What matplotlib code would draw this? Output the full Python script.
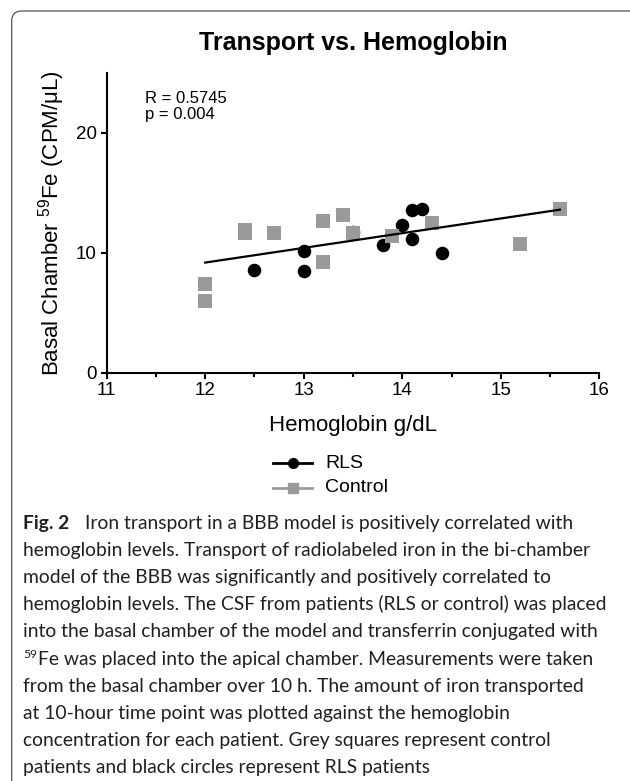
import matplotlib
matplotlib.use("Agg")
import matplotlib.pyplot as plt
import numpy as np
from matplotlib.lines import Line2D
from matplotlib.patches import FancyBboxPatch

plt.rcParams['font.family'] = ['Liberation Sans', 'DejaVu Sans']
plt.rcParams['mathtext.fontset'] = 'custom'
plt.rcParams['mathtext.rm'] = 'Liberation Sans'
plt.rcParams['mathtext.it'] = 'Liberation Sans:italic'

# data (hemoglobin g/dL, basal chamber 59Fe CPM/uL)
rls_hb = [12.5, 13.0, 13.0, 13.5, 13.8, 14.0, 14.1, 14.2, 14.1, 14.4]
rls_fe = [8.6, 10.1, 8.5, 11.7, 10.6, 12.3, 13.55, 13.65, 11.15, 9.95]
ctrl_hb = [12.0, 12.0, 12.4, 12.4, 12.7, 13.2, 13.4, 13.5, 13.2, 13.9, 14.3, 15.2, 15.6]
ctrl_fe = [7.4, 5.95, 11.9, 11.6, 11.6, 12.6, 13.1, 11.6, 9.2, 11.35, 12.5, 10.7, 13.6]
r_text = "R = 0.5745"
p_text = "p = 0.004"
xticks = [11, 12, 13, 14, 15, 16]
yticks = [0, 10, 20]

caption = [
    "hemoglobin levels. Transport of radiolabeled iron in the bi-chamber",
    "model of the BBB was significantly and positively correlated to",
    "hemoglobin levels. The CSF from patients (RLS or control) was placed",
    "into the basal chamber of the model and transferrin conjugated with",
    "Fe was placed into the apical chamber. Measurements were taken",
    "from the basal chamber over 10 h. The amount of iron transported",
    "at 10-hour time point was plotted against the hemoglobin",
    "concentration for each patient. Grey squares represent control",
    "patients and black circles represent RLS patients",
]
caption_first = "Iron transport in a BBB model is positively correlated with"

W, H = 630, 781
fig = plt.figure(figsize=(W / 100, H / 100), dpi=100)
ax = fig.add_axes([106.7 / W, 1 - 372.7 / H, 492.6 / W, 300 / H])

grey = '#9a9a9a'
ax.scatter(rls_hb, rls_fe, s=95, marker='o', color='black', zorder=3, linewidths=0)
ax.scatter(ctrl_hb, ctrl_fe, s=88, marker='s', color=grey, zorder=4, linewidths=0)

# linear fit over all patients
all_hb = np.array(rls_hb + ctrl_hb)
all_fe = np.array(rls_fe + ctrl_fe)
k, b = np.polyfit(all_hb, all_fe, 1)
xx = np.array([all_hb.min(), all_hb.max()])
ax.plot(xx, k * xx + b, color='black', lw=1.6, zorder=5)

ax.set_xlim(11, 16)
ax.set_ylim(0, 25)
ax.set_xticks(xticks)
ax.set_xticks(np.arange(11.5, 16, 1), minor=True)
ax.set_yticks(yticks)
for s in ['top', 'right']:
    ax.spines[s].set_visible(False)
for s in ['left', 'bottom']:
    ax.spines[s].set_linewidth(1.5)
ax.tick_params(which='major', length=4.5, width=1.5, labelsize=13.5, pad=2.5)
ax.tick_params(which='minor', length=3, width=1.5)

ax.set_xlabel("Hemoglobin g/dL", fontsize=16, labelpad=11)
ax.set_ylabel(r"Basal Chamber $^{59}$Fe (CPM/μL)", fontsize=16)
ax.yaxis.set_label_coords(-0.08, 0.5)
ax.text(0.078, 0.94, r_text + "\n" + p_text, transform=ax.transAxes,
        fontsize=12, va='top', ha='left', linespacing=1.15)

fig.text(353 / W, 1 - 50 / H, "Transport vs. Hemoglobin", fontsize=18,
         fontweight='bold', ha='center', va='baseline')

# legend drawn by hand to keep the tight row spacing
for i, (lab, mk, col, ms) in enumerate([("RLS", 'o', 'black', 7), ("Control", 's', grey, 6.5)]):
    yl = 1 - (463 + 25 * i) / H
    fig.add_artist(Line2D([273 / W, 312 / W], [yl, yl], color=col, lw=2,
                          transform=fig.transFigure))
    fig.add_artist(Line2D([292.5 / W], [yl], marker=mk, color=col, ms=ms,
                          transform=fig.transFigure))
    fig.text(325 / W, yl, lab, fontsize=14, va='center', ha='left')

# frame round the figure panel
fig.add_artist(FancyBboxPatch((0.117, -0.3), 6.4, 8.0,
                              boxstyle="round,pad=0,rounding_size=0.1",
                              transform=fig.dpi_scale_trans, fill=False,
                              edgecolor='#555555', lw=0.9))

# caption
cfont = ['Lato', 'DejaVu Sans']
csize = 13.9
ccol = '#231f20'
base = 529
step = 27.1
fig.text(23 / W, 1 - base / H, "Fig. 2", family=cfont, fontsize=csize,
         fontweight='bold', color=ccol, va='baseline')
fig.text(85 / W, 1 - base / H, caption_first, family=cfont, fontsize=csize,
         color=ccol, va='baseline')
renderer = fig.canvas.get_renderer()
for i, line in enumerate(caption):
    y = 1 - (base + step * (i + 1)) / H
    x = 23 / W
    if line.startswith("Fe was"):
        sup = fig.text(x, y + 6 / H, "59", family=cfont, fontsize=csize * 0.62,
                       color=ccol, va='baseline')
        x = sup.get_window_extent(renderer).x1 / W + 0.5 / W
    fig.text(x, y, line, family=cfont, fontsize=csize, color=ccol, va='baseline')

fig.savefig("out.png", dpi=100)
